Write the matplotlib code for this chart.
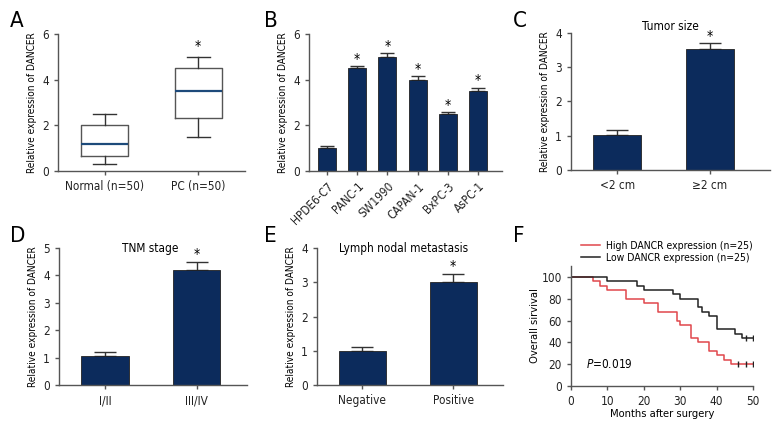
import numpy as np
import matplotlib
matplotlib.use("Agg")
import matplotlib.pyplot as plt

plt.rcParams['font.family'] = ['DejaVu Sans']
plt.rcParams['font.stretch'] = 'condensed'
plt.rcParams['font.size'] = 8

NAVY = '#0c2b5c'
GRAY = '#555555'

# Panel A - box plot stats
box_labels = ['Normal (n=50)', 'PC (n=50)']
box_whislo = [0.3, 1.5]
box_q1 = [0.65, 2.3]
box_med = [1.2, 3.5]
box_q3 = [2.0, 4.5]
box_whishi = [2.5, 5.0]

# Panel B - cell lines
cell_lines = ['HPDE6-C7', 'PANC-1', 'SW1990', 'CAPAN-1', 'BxPC-3', 'AsPC-1']
cell_vals = [1.0, 4.5, 5.0, 4.0, 2.5, 3.5]
cell_err = [0.08, 0.08, 0.15, 0.15, 0.08, 0.15]

# Panel C - tumor size
size_cats = ['<2 cm', '≥2 cm']
size_vals = [1.02, 3.52]
size_err = [0.15, 0.18]

# Panel D - TNM stage
tnm_cats = ['I/II', 'III/IV']
tnm_vals = [1.07, 4.2]
tnm_err = [0.12, 0.3]

# Panel E - lymph nodal metastasis
lymph_cats = ['Negative', 'Positive']
lymph_vals = [1.0, 3.0]
lymph_err = [0.12, 0.25]

# Panel F - Kaplan-Meier steps (month, survival %)
high_t = [0, 6, 8, 10, 15, 20, 24, 29, 30, 33, 35, 38, 40, 42, 44, 50]
high_s = [100, 96, 92, 88, 80, 76, 68, 60, 56, 44, 40, 32, 28, 24, 20, 20]
high_cens = [46, 48, 50]
low_t = [0, 10, 18, 20, 28, 30, 35, 36, 38, 40, 45, 47, 50]
low_s = [100, 96, 92, 88, 84, 80, 72, 68, 64, 52, 48, 44, 44]
low_cens = [48, 50]

W, H = 780, 444
fig = plt.figure(figsize=(7.8, 4.44), dpi=100)
YLAB = 7.2


def px_axes(left, right, top, bottom):
    return fig.add_axes([left / W, 1 - bottom / H, (right - left) / W, (bottom - top) / H])


def style(ax):
    for s in ['top', 'right']:
        ax.spines[s].set_visible(False)
    for s in ['left', 'bottom']:
        ax.spines[s].set_color(GRAY)
        ax.spines[s].set_linewidth(1)
    ax.tick_params(colors='#222222', length=3, width=1, direction='out', labelsize=8.5)
    ax.tick_params(axis='both', color=GRAY)


def bars(ax, vals, errs, width=0.52, cap=8):
    x = np.arange(len(vals))
    ax.bar(x, vals, width=width, color=NAVY, edgecolor='#222222', linewidth=0.6, zorder=2)
    ax.errorbar(x, vals, yerr=[np.zeros(len(errs)), errs], fmt='none',
                ecolor='#333333', elinewidth=1, capsize=cap, capthick=1, zorder=1)
    return x


# A
axA = px_axes(58, 245, 34, 171)
stats = []
for i in range(len(box_labels)):
    stats.append(dict(whislo=box_whislo[i], q1=box_q1[i], med=box_med[i],
                      q3=box_q3[i], whishi=box_whishi[i], fliers=[]))
axA.bxp(stats, positions=[0, 1], widths=0.5, showfliers=False,
        boxprops=dict(color=GRAY, linewidth=1),
        whiskerprops=dict(color='#333333', linewidth=1),
        capprops=dict(color='#333333', linewidth=1),
        medianprops=dict(color='#1d4a7a', linewidth=1.6))
axA.set_xlim(-0.5, 1.5)
axA.set_ylim(0, 6)
axA.set_yticks([0, 2, 4, 6])
axA.set_xticks([0, 1])
axA.set_xticklabels(box_labels)
axA.set_ylabel('Relative expression of DANCER', fontsize=YLAB)
axA.text(1, box_whishi[1] + 0.15, '*', ha='center', va='bottom', fontsize=10)
style(axA)

# B
axB = px_axes(309, 502, 34, 171)
x = bars(axB, cell_vals, cell_err, width=0.6, cap=5)
for xi, v, e in zip(x[1:], cell_vals[1:], cell_err[1:]):
    axB.text(xi, v + e + 0.02, '*', ha='center', va='bottom', fontsize=10)
axB.set_xlim(-0.6, 5.8)
axB.set_ylim(0, 6)
axB.set_yticks([0, 2, 4, 6])
axB.set_xticks(x)
axB.set_xticklabels(cell_lines, rotation=45, ha='right', rotation_mode='anchor')
axB.set_ylabel('Relative expression of DANCER', fontsize=YLAB)
style(axB)

# C
axC = px_axes(571, 770, 33, 170)
x = bars(axC, size_vals, size_err)
axC.text(1, size_vals[1] + size_err[1] + 0.02, '*', ha='center', va='bottom', fontsize=10)
axC.set_xlim(-0.5, 1.65)
axC.set_ylim(0, 4)
axC.set_yticks([0, 1, 2, 3, 4])
axC.set_xticks(x)
axC.set_xticklabels(size_cats)
axC.set_ylabel('Relative expression of DANCER', fontsize=YLAB)
axC.set_title('Tumor size', fontsize=8.5, pad=2)
style(axC)

# D
axD = px_axes(59, 247, 248, 385)
x = bars(axD, tnm_vals, tnm_err)
axD.text(1, tnm_vals[1] + tnm_err[1] + 0.02, '*', ha='center', va='bottom', fontsize=10)
axD.set_xlim(-0.5, 1.55)
axD.set_ylim(0, 5)
axD.set_yticks([0, 1, 2, 3, 4, 5])
axD.set_xticks(x)
axD.set_xticklabels(tnm_cats)
axD.set_ylabel('Relative expression of DANCER', fontsize=YLAB)
axD.text(0.5, 5, 'TNM stage', ha='center', va='center', fontsize=8.5)
style(axD)

# E
axE = px_axes(317, 503, 248, 385)
x = bars(axE, lymph_vals, lymph_err)
axE.text(1, lymph_vals[1] + lymph_err[1] + 0.02, '*', ha='center', va='bottom', fontsize=10)
axE.set_xlim(-0.5, 1.55)
axE.set_ylim(0, 4)
axE.set_yticks([0, 1, 2, 3, 4])
axE.set_xticks(x)
axE.set_xticklabels(lymph_cats)
axE.set_ylabel('Relative expression of DANCER', fontsize=YLAB)
axE.text(0.45, 4, 'Lymph nodal metastasis', ha='center', va='center', fontsize=8.5)
style(axE)

# F
axF = px_axes(571, 753, 266, 386)
axF.step(high_t, high_s, where='post', color='#e0474c', linewidth=1.1,
         label='High DANCR expression (n=25)')
axF.step(low_t, low_s, where='post', color='#222222', linewidth=1.1,
         label='Low DANCR expression (n=25)')
axF.plot(high_cens, [20] * len(high_cens), '|', color='#222222', markersize=4)
axF.plot(low_cens, [44] * len(low_cens), '|', color='#222222', markersize=4)
axF.set_xlim(0, 50)
axF.set_ylim(0, 110)
axF.set_xticks([0, 10, 20, 30, 40, 50])
axF.set_yticks([0, 20, 40, 60, 80, 100])
axF.set_xlabel('Months after surgery', labelpad=1)
axF.set_ylabel('Overall sirvival', labelpad=1)
axF.text(4, 20, '$P$=0.019', ha='left', va='center', fontsize=8.5)
axF.legend(loc='lower left', bbox_to_anchor=(0.04, 1.0), frameon=False, fontsize=7.5,
           handlelength=1.8, labelspacing=0.2, borderpad=0, borderaxespad=0.3,
           handletextpad=0.6)
style(axF)

# panel letters
for letter, (px, py) in zip('ABCDEF', [(10, 21), (264, 21), (513, 21),
                                        (10, 236), (264, 236), (513, 236)]):
    fig.text(px / W, 1 - py / H, letter, fontsize=16, ha='left', va='center')

fig.savefig('out.png', dpi=100)
